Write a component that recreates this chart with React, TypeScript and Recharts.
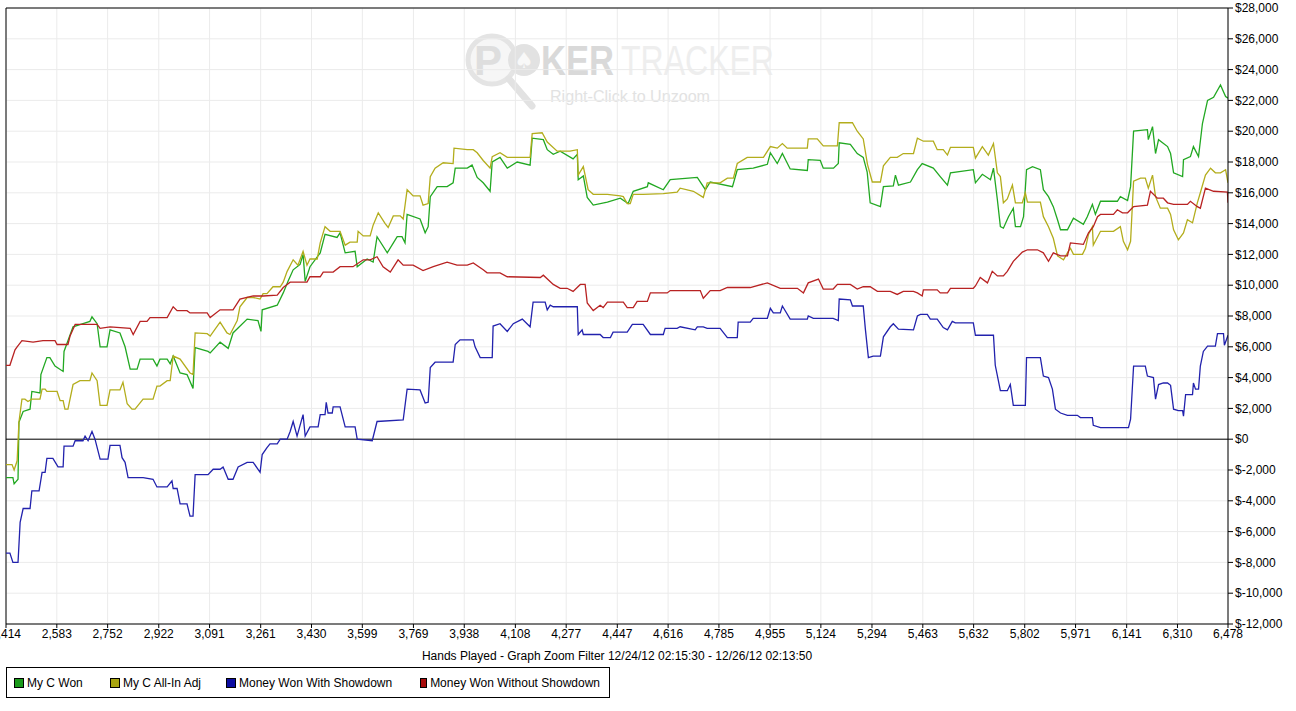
import React from 'react';
import { LineChart, Line, XAxis, YAxis, CartesianGrid, ReferenceLine } from 'recharts';

// hands played tick marks along the bottom axis
const handTicks = [
    2414, 2583, 2752, 2922, 3091, 3261, 3430, 3599, 3769, 3938, 4108, 4277, 4447,
    4616, 4785, 4955, 5124, 5294, 5463, 5632, 5802, 5971, 6141, 6310, 6478,
];

const dollarTicks = [
    -12000, -10000, -8000, -6000, -4000, -2000, 0, 2000, 4000, 6000, 8000, 10000,
    12000, 14000, 16000, 18000, 20000, 22000, 24000, 26000, 28000,
];

// [hand, $] pairs
const myCWon: [number, number][] = [
    [2414, -2500], [2437, -2500], [2441, -2900], [2454, -2600], [2457, 1100], [2471, 1800], [2494, 1950],
    [2500, 3100], [2527, 3000], [2530, 4200], [2550, 5300], [2560, 5300], [2577, 4750], [2604, 4400],
    [2607, 5700], [2637, 7300], [2670, 7500], [2693, 7650], [2700, 7950], [2717, 7500], [2727, 6000],
    [2750, 6000], [2760, 7100], [2793, 6900], [2810, 6000], [2827, 4550], [2850, 4550], [2860, 5200],
    [2903, 5200], [2916, 4750], [2926, 5200], [2950, 5200], [2960, 4900], [2970, 5400], [2993, 4300],
    [3016, 4200], [3036, 3300], [3043, 5950], [3086, 5700], [3093, 5600], [3126, 6300], [3153, 5900],
    [3169, 6900], [3216, 7800], [3252, 7700], [3262, 7000], [3266, 8400], [3316, 8700], [3336, 9500],
    [3352, 10250], [3369, 11000], [3392, 11350], [3402, 12000], [3409, 10250], [3425, 11200], [3459, 12100],
    [3475, 13300], [3515, 13100], [3525, 13400], [3542, 12100], [3575, 12200], [3582, 11200], [3615, 11700],
    [3635, 11500], [3648, 13150], [3682, 12100], [3715, 13150], [3731, 13150], [3741, 12750], [3748, 14600],
    [3791, 14300], [3808, 13400], [3818, 13800], [3825, 15750], [3848, 16400], [3881, 16400], [3901, 16650],
    [3908, 17600], [3948, 17600], [3964, 17800], [3981, 17000], [4001, 16650], [4024, 16100], [4031, 18000],
    [4057, 18300], [4081, 17600], [4114, 18000], [4157, 17800], [4164, 19550], [4201, 19450], [4214, 18800],
    [4234, 18500], [4257, 18700], [4300, 18200], [4314, 18500], [4317, 16850], [4334, 17100], [4347, 15700],
    [4367, 15200], [4414, 15400], [4457, 15650], [4483, 15300], [4500, 16100], [4547, 16400], [4550, 16650],
    [4600, 16200], [4623, 16850], [4713, 17000], [4740, 16200], [4756, 16700], [4830, 16400], [4846, 17500],
    [4899, 17600], [4946, 17850], [4956, 18600], [4979, 17900], [4996, 18550], [5022, 17550], [5079, 17450],
    [5082, 18150], [5122, 18100], [5132, 17600], [5166, 17600], [5182, 17900], [5185, 19250], [5222, 19150],
    [5245, 18550], [5265, 18300], [5278, 17350], [5288, 15350], [5322, 15100], [5332, 16400], [5365, 16450],
    [5372, 17150], [5382, 16500], [5422, 16700], [5445, 17500], [5461, 17900], [5498, 17600], [5521, 17050],
    [5545, 16500], [5555, 17300], [5631, 17500], [5638, 16650], [5661, 17200], [5688, 16850], [5698, 17600],
    [5711, 15550], [5721, 13800], [5731, 13700], [5748, 14450], [5764, 15000], [5771, 13800], [5788, 13800],
    [5798, 14450], [5808, 17500], [5828, 17700], [5854, 17500], [5864, 16200], [5881, 15750], [5897, 15100],
    [5911, 14250], [5921, 13600], [5944, 13600], [5964, 14350], [5997, 13950], [6010, 14450], [6027, 15250],
    [6037, 14600], [6054, 15450], [6110, 15450], [6120, 15750], [6144, 15500], [6154, 16400], [6164, 20000],
    [6210, 20100], [6213, 19450], [6227, 20300], [6237, 18550], [6247, 19450], [6277, 19000], [6287, 18550],
    [6297, 17300], [6327, 17050], [6330, 18150], [6353, 18350], [6363, 19000], [6380, 18350], [6393, 20500],
    [6410, 22000], [6430, 22200], [6453, 23000], [6470, 22250], [6478, 22150],
];

const myCAllInAdj: [number, number][] = [
    [2414, -1650], [2434, -1650], [2441, -2000], [2451, -1400], [2457, 1100], [2467, 2600], [2477, 2600],
    [2487, 2450], [2500, 2600], [2527, 2600], [2534, 3250], [2544, 3250], [2550, 3100], [2584, 3100],
    [2594, 2500], [2604, 2500], [2610, 1950], [2620, 1950], [2637, 3550], [2660, 3800], [2693, 3800],
    [2700, 4300], [2717, 3800], [2727, 2200], [2750, 2200], [2760, 3200], [2793, 3200], [2803, 3700],
    [2817, 2300], [2833, 1950], [2843, 1950], [2870, 2600], [2903, 2600], [2916, 3450], [2926, 3450],
    [2950, 3800], [2960, 3800], [2970, 5400], [2993, 5200], [3026, 4300], [3036, 4200], [3043, 6900],
    [3083, 6850], [3093, 6700], [3126, 7600], [3149, 6900], [3159, 6800], [3183, 7700], [3192, 8600],
    [3216, 9200], [3236, 9200], [3259, 9100], [3269, 9450], [3282, 9450], [3302, 9900], [3326, 9900],
    [3336, 10200], [3349, 10900], [3369, 11650], [3385, 11300], [3402, 12200], [3415, 11300], [3425, 11700],
    [3449, 11700], [3459, 12750], [3475, 13800], [3492, 13500], [3525, 13500], [3542, 12600], [3558, 12800],
    [3582, 12800], [3585, 13500], [3602, 13200], [3625, 13200], [3635, 13900], [3652, 14700], [3675, 14000],
    [3685, 13750], [3702, 14500], [3725, 14500], [3735, 14300], [3748, 16200], [3768, 15800], [3791, 15800],
    [3801, 15200], [3818, 15300], [3825, 17050], [3841, 17600], [3868, 17950], [3901, 17900], [3904, 18900],
    [3948, 18800], [3968, 18800], [3981, 18600], [4001, 18100], [4024, 17600], [4031, 18350], [4057, 18600],
    [4081, 18300], [4157, 18300], [4164, 19850], [4197, 19900], [4214, 19300], [4247, 18700], [4290, 18700],
    [4314, 18800], [4317, 17150], [4334, 17700], [4350, 16200], [4367, 15900], [4414, 15900], [4457, 15800],
    [4467, 15750], [4480, 15300], [4490, 15300], [4500, 15900], [4533, 15900], [4600, 15950], [4646, 16050],
    [4656, 16300], [4700, 16100], [4733, 15700], [4746, 16650], [4789, 16650], [4813, 16950], [4833, 16950],
    [4846, 17900], [4879, 18300], [4933, 18300], [4956, 19000], [4979, 18900], [4996, 19200], [5012, 18900],
    [5079, 18900], [5082, 19500], [5112, 19500], [5132, 19050], [5179, 19050], [5185, 20550], [5229, 20550],
    [5245, 20000], [5265, 19500], [5279, 17850], [5295, 16700], [5322, 16700], [5332, 17750], [5355, 18300],
    [5378, 18300], [5398, 18550], [5432, 18550], [5445, 19550], [5465, 19350], [5498, 19350], [5511, 18800],
    [5531, 18800], [5545, 18450], [5555, 18950], [5631, 18950], [5638, 18250], [5661, 19000], [5681, 18450],
    [5698, 19200], [5711, 17300], [5721, 17050], [5731, 15350], [5744, 15600], [5761, 16500], [5771, 15350],
    [5794, 15350], [5804, 16000], [5811, 15400], [5854, 15400], [5864, 14450], [5881, 13800], [5897, 13050],
    [5911, 11900], [5931, 11650], [5944, 12100], [5954, 12400], [5964, 12000], [5994, 12000], [6004, 12400],
    [6014, 13300], [6027, 13800], [6030, 12600], [6054, 13500], [6097, 13500], [6120, 13800], [6130, 12850],
    [6144, 12300], [6154, 12850], [6164, 16750], [6187, 16950], [6203, 16950], [6213, 16300], [6227, 17150],
    [6237, 15750], [6253, 15000], [6277, 15000], [6287, 14600], [6297, 13600], [6313, 12950], [6330, 13400],
    [6343, 14250], [6360, 14050], [6376, 15350], [6386, 16000], [6403, 17150], [6420, 17600], [6436, 17300],
    [6453, 17300], [6470, 17500], [6478, 16650],
];

const wonWithShowdown: [number, number][] = [
    [2414, -7400], [2427, -7400], [2437, -8000], [2454, -8000], [2461, -5400], [2471, -4500], [2494, -4500],
    [2500, -3350], [2524, -3350], [2534, -2150], [2544, -2150], [2550, -1250], [2570, -1250], [2587, -1800],
    [2604, -1800], [2607, -450], [2637, -450], [2644, -100], [2670, -100], [2677, 200], [2687, -100],
    [2700, 500], [2710, 0], [2727, -1300], [2753, -1300], [2760, -400], [2793, -400], [2800, -1200],
    [2810, -1500], [2820, -2500], [2870, -2500], [2903, -2600], [2916, -3100], [2950, -3100], [2966, -2700],
    [2970, -3200], [2983, -3200], [2993, -4200], [3016, -4200], [3026, -5000], [3036, -5000], [3043, -2300],
    [3086, -2300], [3103, -1950], [3126, -1950], [3136, -1800], [3153, -2600], [3169, -2600], [3186, -1800],
    [3216, -1500], [3236, -1500], [3259, -2150], [3266, -1000], [3282, -550], [3292, -300], [3316, -300],
    [3326, 0], [3349, 0], [3359, 500], [3369, 1150], [3382, 200], [3402, 1600], [3409, 200], [3425, 800],
    [3452, 800], [3459, 1600], [3475, 1600], [3479, 2400], [3485, 1700], [3499, 1700], [3502, 2100],
    [3525, 2100], [3542, 800], [3575, 800], [3582, 0], [3632, -100], [3648, 1150], [3735, 1250], [3748, 3250],
    [3791, 3200], [3808, 2350], [3818, 2400], [3825, 4650], [3841, 5000], [3901, 5000], [3908, 6150],
    [3924, 6450], [3968, 6450], [3974, 6000], [3991, 5300], [4031, 5300], [4034, 7350], [4057, 7500],
    [4081, 7000], [4101, 7500], [4131, 7800], [4157, 7300], [4167, 8900], [4207, 8900], [4214, 8400],
    [4224, 8700], [4234, 8600], [4314, 8600], [4317, 6800], [4330, 7100], [4334, 6800], [4390, 6800],
    [4400, 6600], [4424, 6600], [4433, 6950], [4480, 6950], [4497, 7450], [4533, 7450], [4557, 6800],
    [4600, 6800], [4606, 7200], [4646, 7200], [4656, 7300], [4706, 7100], [4713, 7300], [4733, 7300],
    [4746, 7200], [4789, 7200], [4813, 6600], [4846, 6600], [4849, 7600], [4889, 7600], [4899, 7850],
    [4946, 7850], [4956, 8500], [4966, 8200], [4989, 8200], [4996, 8650], [5022, 7800], [5079, 7800],
    [5082, 8000], [5099, 7850], [5165, 7850], [5182, 7700], [5185, 9100], [5222, 9050], [5229, 8650],
    [5265, 8650], [5272, 7150], [5282, 5300], [5298, 5400], [5322, 5400], [5332, 6650], [5355, 7300],
    [5365, 7500], [5382, 7150], [5432, 7100], [5445, 8000], [5455, 8100], [5478, 8100], [5488, 7800],
    [5511, 7800], [5531, 7250], [5545, 7100], [5561, 7650], [5571, 7550], [5631, 7550], [5638, 6750],
    [5698, 6750], [5704, 4800], [5721, 3150], [5744, 3150], [5754, 3550], [5764, 2200], [5804, 2200],
    [5808, 5300], [5854, 5300], [5864, 4100], [5881, 4000], [5894, 3250], [5904, 1950], [5921, 1700],
    [5944, 1550], [5977, 1550], [5987, 1400], [6027, 1400], [6030, 900], [6054, 750], [6147, 750],
    [6154, 1300], [6164, 4750], [6203, 4750], [6210, 4100], [6230, 4000], [6237, 2600], [6247, 3550],
    [6263, 3650], [6277, 3650], [6287, 3500], [6297, 1950], [6313, 1850], [6327, 1850], [6330, 1500],
    [6337, 2900], [6360, 2900], [6363, 3650], [6370, 3250], [6380, 3250], [6386, 4750], [6396, 5700],
    [6410, 6050], [6436, 6050], [6443, 6850], [6463, 6850], [6466, 6100], [6478, 6750],
];

const wonWithoutShowdown: [number, number][] = [
    [2414, 4800], [2427, 4800], [2444, 5800], [2451, 6000], [2467, 6400], [2504, 6300], [2537, 6400],
    [2577, 6400], [2584, 6150], [2620, 6150], [2627, 6700], [2644, 7450], [2717, 7450], [2727, 7200],
    [2760, 7300], [2827, 7200], [2837, 6800], [2860, 7650], [2883, 7650], [2893, 7900], [2950, 7900],
    [2970, 8600], [2983, 8350], [3016, 8350], [3026, 8200], [3083, 8200], [3093, 7900], [3126, 8400],
    [3169, 8400], [3192, 9100], [3236, 9300], [3269, 9300], [3316, 9350], [3336, 9850], [3359, 10200],
    [3415, 10200], [3425, 10550], [3459, 10550], [3469, 10850], [3502, 10850], [3525, 11200], [3568, 11200],
    [3602, 11650], [3625, 11650], [3648, 11850], [3668, 11200], [3692, 10850], [3718, 11650], [3735, 11300],
    [3768, 11300], [3801, 10950], [3835, 11200], [3881, 11500], [3914, 11300], [3948, 11300], [3968, 11450],
    [4001, 11000], [4014, 10800], [4057, 10800], [4081, 10550], [4191, 10500], [4201, 10650], [4234, 10050],
    [4257, 9800], [4280, 9800], [4300, 9600], [4324, 10050], [4340, 10050], [4347, 8850], [4367, 8350],
    [4390, 8700], [4400, 8550], [4414, 8900], [4467, 8900], [4480, 8550], [4500, 8550], [4513, 8950],
    [4547, 8950], [4557, 9500], [4613, 9500], [4623, 9650], [4723, 9650], [4733, 9150], [4756, 9650],
    [4789, 9650], [4813, 9850], [4889, 9850], [4946, 10150], [4989, 9800], [5046, 9800], [5066, 9500],
    [5082, 10150], [5116, 10400], [5132, 9750], [5165, 9750], [5179, 10050], [5222, 10050], [5245, 9750],
    [5265, 9900], [5288, 9900], [5312, 9600], [5355, 9600], [5378, 9400], [5398, 9600], [5432, 9600],
    [5445, 9500], [5461, 9300], [5465, 9700], [5511, 9700], [5521, 9500], [5545, 9500], [5555, 9800],
    [5631, 9800], [5638, 9950], [5654, 10500], [5678, 10150], [5694, 10900], [5711, 10600], [5731, 10600],
    [5744, 10900], [5764, 11550], [5794, 12150], [5811, 12300], [5844, 12300], [5864, 12100], [5881, 11550],
    [5897, 12100], [5921, 11900], [5944, 11900], [5954, 12750], [5997, 12650], [6014, 13400], [6030, 13800],
    [6044, 14450], [6054, 14600], [6097, 14600], [6110, 14900], [6127, 14700], [6144, 14700], [6164, 15100],
    [6210, 15200], [6220, 16100], [6243, 15650], [6263, 15650], [6277, 15350], [6297, 15250], [6343, 15250],
    [6353, 15450], [6376, 15100], [6386, 15000], [6403, 16300], [6430, 16100], [6476, 16050], [6478, 15350],
];

const seriesList = [
    { name: 'My C Won', rows: myCWon, color: '#22a822', swatch: '#1a9a1a', slot: 96 },
    { name: 'My C All-In Adj', rows: myCAllInAdj, color: '#b3ad1c', swatch: '#a8a410', slot: 116 },
    { name: 'Money Won With Showdown', rows: wonWithShowdown, color: '#2222ad', swatch: '#0c0ca0', slot: 194 },
    { name: 'Money Won Without Showdown', rows: wonWithoutShowdown, color: '#b82222', swatch: '#a80c0c', slot: 180 },
];

const FONT = '"Liberation Sans", Arial, sans-serif';

const fmtHand = (v: number) => v.toLocaleString('en-US');
const fmtDollar = (v: number) => (v < 0 ? '$-' : '$') + Math.abs(v).toLocaleString('en-US');

// faint logo behind the plot
const Watermark = () => (
    <svg width={1296} height={711} style={{ position: 'absolute', left: 0, top: 0 }}>
        <circle cx={492} cy={60} r={24} fill="#f6f6f6" stroke="#e4e4e4" strokeWidth={5} />
        <line x1={509} y1={79} x2={532} y2={106} stroke="#e2e2e2" strokeWidth={7} strokeLinecap="round" />
        <text x={474} y={75} fontSize={42} fontWeight="bold" fill="#dedede" fontFamily={FONT}>P</text>
        <circle cx={524} cy={60} r={16} fill="#e2e2e2" />
        <text x={524} y={68} fontSize={22} fill="#f8f8f8" textAnchor="middle" fontFamily="DejaVu Sans">♠</text>
        <text x={541} y={75} fontSize={42} fontWeight="bold" fill="#d9d9d9" fontFamily={FONT}
            textLength={73} lengthAdjust="spacingAndGlyphs">KER</text>
        <text x={621} y={75} fontSize={42} fill="#eeeeee" fontFamily={FONT}
            textLength={153} lengthAdjust="spacingAndGlyphs">TRACKER</text>
        <text x={550} y={102} fontSize={16} fill="#e2e2e2" fontFamily={FONT}
            textLength={160} lengthAdjust="spacingAndGlyphs">Right-Click to Unzoom</text>
    </svg>
);

export default function App() {
    return (
        <div style={{ position: 'relative', width: 1296, height: 711, background: '#fff', fontFamily: FONT }}>
            <style>{'body { margin: 0; }'}</style>
            <Watermark />
            <div style={{ position: 'absolute', left: 0, top: 0 }}>
                <LineChart width={1296} height={711} margin={{ top: 8, right: 0, left: 6, bottom: 47 }}>
                    <CartesianGrid stroke="#ebebeb" />
                    <XAxis
                        dataKey="hand"
                        type="number"
                        domain={[2414, 6478]}
                        ticks={handTicks}
                        interval={0}
                        allowDataOverflow
                        tickFormatter={fmtHand}
                        tickSize={4}
                        tickMargin={1}
                        height={40}
                        stroke="#000"
                        tick={{ fill: '#000', fontSize: 12, fontFamily: FONT }}
                        label={{
                            value: 'Hands Played - Graph Zoom Filter 12/24/12 02:15:30 - 12/26/12 02:13:50',
                            position: 'insideBottom',
                            offset: 4,
                            fill: '#000',
                            fontSize: 12,
                            fontFamily: FONT,
                        }}
                    />
                    <YAxis
                        orientation="right"
                        type="number"
                        domain={[-12000, 28000]}
                        ticks={dollarTicks}
                        interval={0}
                        allowDataOverflow
                        tickFormatter={fmtDollar}
                        tickSize={5}
                        tickMargin={2}
                        width={68}
                        stroke="#000"
                        tick={{ fill: '#000', fontSize: 12, fontFamily: FONT }}
                    />
                    <ReferenceLine y={28000} stroke="#000" />
                    <ReferenceLine x={2414} stroke="#000" />
                    <ReferenceLine y={0} stroke="#000" />
                    {seriesList.map((s) => (
                        <Line
                            key={s.name}
                            data={s.rows.map(([hand, value]) => ({ hand, value }))}
                            dataKey="value"
                            name={s.name}
                            type="linear"
                            stroke={s.color}
                            strokeWidth={1.3}
                            dot={false}
                            activeDot={false}
                            isAnimationActive={false}
                        />
                    ))}
                </LineChart>
            </div>
            <div
                style={{
                    position: 'absolute',
                    left: 6,
                    top: 667,
                    width: 604,
                    height: 31,
                    border: '1px solid #000',
                    display: 'flex',
                    alignItems: 'center',
                    fontSize: 12,
                    color: '#000',
                    boxSizing: 'border-box',
                    paddingLeft: 7,
                    whiteSpace: 'nowrap',
                }}
            >
                {seriesList.map((s) => (
                    <span
                        key={s.name}
                        style={{ display: 'inline-flex', alignItems: 'center', width: s.slot, flexShrink: 0 }}
                    >
                        <span
                            style={{
                                display: 'inline-block',
                                width: 8,
                                height: 8,
                                background: s.swatch,
                                border: '1px solid #000',
                                marginRight: 3,
                            }}
                        />
                        {s.name}
                    </span>
                ))}
            </div>
        </div>
    );
}
